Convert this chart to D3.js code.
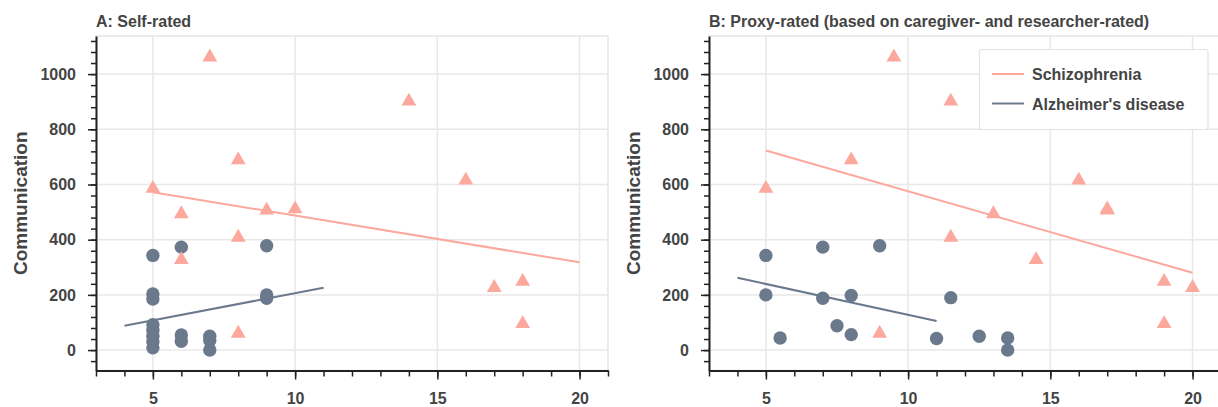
<!DOCTYPE html>
<html>
<head>
<meta charset="utf-8">
<script src="https://cdn.jsdelivr.net/npm/d3@7"></script>
<style>
  body { margin: 0; background: #fff; }
  svg { display: block; font-family: "Liberation Sans", Arial, sans-serif; }
</style>
</head>
<body>
<svg width="1218" height="407"></svg>
<script>
// data
const selfSzX = [7, 14, 8, 16, 5, 6, 9, 10, 8, 6, 17, 18, 18, 8];
const selfSzY = [1065, 905, 692, 619, 589, 497, 510, 515, 412, 331, 230, 252, 99, 64];
const selfAdX = [5, 6, 9, 5, 5, 9, 9, 5, 5, 5, 5, 5, 6, 6, 7, 7, 7];
const selfAdY = [343, 373, 378, 203, 185, 200, 188, 92, 72, 50, 30, 8, 55, 32, 50, 35, 0];

const proxySzX = [9.5, 11.5, 8, 16, 5, 13, 17, 17, 11.5, 14.5, 20, 19, 19, 9];
const proxySzY = [1065, 905, 692, 619, 589, 497, 510, 515, 412, 331, 230, 252, 99, 64];
const proxyAdX = [5, 7, 9, 5, 7, 8, 11.5, 5.5, 7.5, 8, 11, 12.5, 13.5, 13.5];
const proxyAdY = [343, 373, 378, 200, 188, 198, 190, 44, 88, 56, 42, 50, 44, 0];

// fitted lines (end points)
const selfSzFitX = [5, 20], selfSzFitY = [572, 318];
const selfAdFitX = [4, 11], selfAdFitY = [88, 226];
const proxySzFitX = [5, 20], proxySzFitY = [723, 280];
const proxyAdFitX = [4, 11], proxyAdFitY = [262, 105];

const xMajor = [5, 10, 15, 20];
const yMajor = [0, 200, 400, 600, 800, 1000];
const titles = ["A: Self-rated", "B: Proxy-rated (based on caregiver- and researcher-rated)"];
const legendLabels = ["Schizophrenia", "Alzheimer's disease"];

const szColor = "#fca89d";
const adColor = "#6b798d";

const svg = d3.select("svg");

const panels = [
  { left: 96, title: titles[0], szX: selfSzX, szY: selfSzY, adX: selfAdX, adY: selfAdY,
    szFit: [selfSzFitX, selfSzFitY], adFit: [selfAdFitX, selfAdFitY] },
  { left: 709, title: titles[1], szX: proxySzX, szY: proxySzY, adX: proxyAdX, adY: proxyAdY,
    szFit: [proxySzFitX, proxySzFitY], adFit: [proxyAdFitX, proxyAdFitY] }
];

const plotTop = 36, plotBottom = 370.5, plotW = 512;

const yScale = d3.scaleLinear().domain([-74, 1138]).range([plotBottom, plotTop]);
const triangle = d3.symbol().type(d3.symbolTriangle).size(95);

panels.forEach(function(p) {
  const xScale = d3.scaleLinear().domain([3, 21]).range([p.left, p.left + plotW]);
  const g = svg.append("g");

  // plot frame
  g.append("rect")
    .attr("x", p.left).attr("y", plotTop)
    .attr("width", plotW).attr("height", plotBottom - plotTop)
    .attr("fill", "none").attr("stroke", "#e6e6e6").attr("stroke-width", 1.5);

  // grid
  g.selectAll(".gx").data(xMajor).enter().append("line")
    .attr("x1", d => xScale(d)).attr("x2", d => xScale(d))
    .attr("y1", plotTop).attr("y2", plotBottom)
    .attr("stroke", "#e8e8e8").attr("stroke-width", 1.5);
  g.selectAll(".gy").data(yMajor).enter().append("line")
    .attr("x1", p.left).attr("x2", p.left + plotW)
    .attr("y1", d => yScale(d)).attr("y2", d => yScale(d))
    .attr("stroke", "#e8e8e8").attr("stroke-width", 1.5);

  // fitted lines
  const line = d3.line().x(d => xScale(d[0])).y(d => yScale(d[1]));
  g.append("path").datum(d3.zip(p.szFit[0], p.szFit[1]))
    .attr("d", line).attr("fill", "none").attr("stroke", szColor).attr("stroke-width", 2);
  g.append("path").datum(d3.zip(p.adFit[0], p.adFit[1]))
    .attr("d", line).attr("fill", "none").attr("stroke", adColor).attr("stroke-width", 2);

  // points
  g.selectAll(".ad").data(d3.zip(p.adX, p.adY)).enter().append("circle")
    .attr("cx", d => xScale(d[0])).attr("cy", d => yScale(d[1]))
    .attr("r", 6.7).attr("fill", adColor);
  g.selectAll(".sz").data(d3.zip(p.szX, p.szY)).enter().append("path")
    .attr("d", triangle)
    .attr("transform", d => "translate(" + xScale(d[0]) + "," + (yScale(d[1]) + 1) + ")")
    .attr("fill", szColor);

  // x axis: minor + major ticks
  const xMinor = d3.range(3, 22);
  g.append("g").attr("transform", "translate(0," + plotBottom + ")")
    .call(d3.axisBottom(xScale).tickValues(xMinor).tickSize(6).tickFormat(""))
    .call(a => a.select(".domain").remove());
  const xa = g.append("g").attr("transform", "translate(0," + plotBottom + ")")
    .call(d3.axisBottom(xScale).tickValues(xMajor).tickSize(9).tickPadding(13).tickSizeOuter(0));

  // y axis
  const yMinor = d3.range(-40, 1121, 40);
  g.append("g").attr("transform", "translate(" + p.left + ",0)")
    .call(d3.axisLeft(yScale).tickValues(yMinor).tickSize(5).tickFormat(""))
    .call(a => a.select(".domain").remove());
  const ya = g.append("g").attr("transform", "translate(" + p.left + ",0)")
    .call(d3.axisLeft(yScale).tickValues(yMajor).tickSize(8).tickPadding(12)
      .tickSizeOuter(0).tickFormat(d3.format("d")));

  g.selectAll(".tick line").attr("stroke", "#222").attr("stroke-width", 1.5);
  [xa, ya].forEach(function(a) {
    a.select(".domain").attr("stroke", "#222").attr("stroke-width", 2);
    a.selectAll("text").attr("font-size", 16).attr("font-weight", "bold").attr("fill", "#444")
      .attr("font-family", "Liberation Sans, Arial, sans-serif");
  });

  // y label
  g.append("text")
    .attr("transform", "translate(" + (p.left - 69) + "," + ((plotTop + plotBottom) / 2) + ") rotate(-90)")
    .attr("text-anchor", "middle")
    .attr("font-size", 19).attr("font-weight", "bold").attr("fill", "#444")
    .text("Communication");

  // title
  g.append("text")
    .attr("x", p.left).attr("y", 27)
    .attr("font-size", 16).attr("font-weight", "bold").attr("fill", "#444")
    .text(p.title);
});

// legend in panel B
const legend = svg.append("g");
legend.append("rect")
  .attr("x", 979.5).attr("y", 49.5).attr("width", 228.5).attr("height", 80)
  .attr("rx", 2).attr("fill", "#fff").attr("stroke", "#e2e2e2").attr("stroke-width", 1.2);
const legendColors = [szColor, adColor];
legendLabels.forEach(function(label, i) {
  const y = 74 + i * 29.5;
  legend.append("line")
    .attr("x1", 992).attr("x2", 1024).attr("y1", y).attr("y2", y)
    .attr("stroke", legendColors[i]).attr("stroke-width", 2);
  legend.append("text")
    .attr("x", 1032).attr("y", y + 6)
    .attr("font-size", 16).attr("font-weight", "bold").attr("fill", "#444")
    .text(label);
});
</script>
</body>
</html>
